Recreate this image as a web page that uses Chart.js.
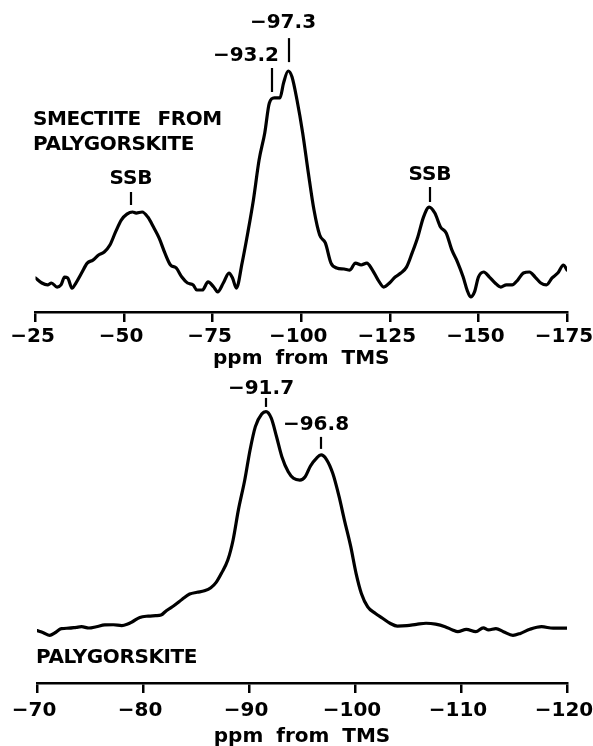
<!DOCTYPE html>
<html><head><meta charset="utf-8">
<script src="https://cdn.jsdelivr.net/npm/chart.js@4/dist/chart.umd.min.js"></script>
<style>
html,body{margin:0;padding:0;background:#fff;width:593px;height:746px;overflow:hidden;position:relative}
canvas{position:absolute;left:0}
#c1{top:0}
#c2{top:374px}
</style></head><body>
<canvas id="c1" width="620" height="372"></canvas>
<canvas id="c2" width="620" height="372"></canvas>
<script>
// ---------- data: smectite from palygorskite (top) ----------
const topPpm = [-25,-26.8,-28.4,-29.5,-31.1,-32.2,-33.2,-34.1,-35.3,-36.4,-38.0,-39.6,-41.2,-42.8,-44.4,-46.0,-47.6,-49.2,-50.8,-52.4,-53.4,-55.1,-56.7,-58.3,-59.9,-61.5,-63.1,-64.7,-66.3,-67.9,-69.5,-70.5,-72.1,-73.7,-75.3,-76.4,-78.0,-79.6,-80.6,-81.7,-83.3,-84.9,-86.5,-88.1,-89.7,-91.0,-92.4,-94.0,-95.0,-96.3,-97.4,-98.8,-100.4,-102.0,-103.6,-105.2,-106.8,-108.4,-110.0,-112.1,-113.7,-115.3,-116.9,-118.5,-120.1,-121.7,-123.3,-124.9,-126.5,-128.1,-129.7,-131.3,-132.9,-134.5,-136.1,-137.7,-139.3,-140.9,-142.5,-144.1,-145.7,-146.8,-147.8,-148.9,-150.0,-151.5,-153.1,-154.7,-156.3,-157.9,-159.5,-161.1,-162.7,-164.4,-166.0,-167.6,-169.2,-170.8,-172.4,-174.0,-175.0];
const topIntensity = [2.4,0,-0.9,0,-1.9,-0.9,2.8,2.4,-2.4,0,4.7,9.4,10.8,13.2,14.6,17.9,24.1,29.7,32.5,33.5,33.0,33.5,31.1,26.4,21.2,14.2,8.5,7.1,2.8,0,-0.9,-3.3,-3.3,0.5,-1.9,-4.2,0,4.7,2.4,-2.4,9.4,23.6,39.2,58.0,70.8,84.9,87.3,87.3,94.3,100,97.2,86.3,70.8,51.9,34.4,22.6,18.9,9.4,7.1,6.6,6.1,9.4,8.5,9.4,6.1,1.4,-1.9,0,2.8,4.7,7.5,14.2,21.7,31.1,35.8,33.0,26.4,23.6,15.6,9.9,2.8,-3.3,-6.6,-4.2,2.8,5.2,2.8,0,-1.9,-0.9,-0.9,1.4,4.7,5.2,2.8,0,-0.9,2.4,4.7,8.5,6.1];
const topTicks = [-25,-50,-75,-100,-125,-150,-175];
const topPeakLabels = ['\u221293.2','\u221297.3','SSB','SSB'];
const topPeakPpm = [-91.8,-96.5,-52.0,-136.3];
const topPeakLevel = [90.1,104.2,36.8,38.2];
const topSample = ['SMECTITE FROM','PALYGORSKITE'];

// ---------- data: palygorskite (bottom) ----------
const bottomPpm = [-70.0,-70.6,-71.2,-71.7,-72.3,-73.0,-73.7,-74.2,-74.9,-75.6,-76.4,-77.2,-78.0,-78.5,-79.0,-79.7,-80.5,-81.2,-81.7,-82.2,-83.0,-83.7,-84.4,-85.1,-85.8,-86.4,-86.9,-87.4,-88.0,-88.5,-89.0,-89.6,-90.1,-90.6,-91.2,-91.6,-92.1,-92.6,-93.1,-93.7,-94.2,-94.8,-95.3,-95.8,-96.4,-96.8,-97.3,-97.9,-98.5,-99.0,-99.6,-100.1,-100.6,-101.2,-101.9,-102.6,-103.3,-104.0,-104.9,-105.8,-106.7,-107.6,-108.5,-109.2,-109.7,-110.5,-111.4,-112.1,-112.6,-113.3,-114.0,-114.9,-115.6,-116.5,-117.6,-118.7,-120.0];
const bottomIntensity = [-1.2,-2.2,-3.4,-2.2,-0.3,-0.1,0.3,0.6,0,0.6,1.4,1.5,1.1,1.7,2.9,4.9,5.5,5.7,6.0,8.0,10.6,13.3,15.7,16.5,17.2,18.6,21.1,25.3,31.4,40.7,54.6,68.4,82.3,93.1,98.9,100,97.0,88.4,79.2,72.2,69.2,68.4,69.9,74.9,78.7,80.0,78.0,71.5,60.7,49.9,37.6,25.3,16.0,9.8,6.8,4.5,2.2,0.9,1.1,1.7,2.2,1.8,0.6,-0.9,-1.7,-0.6,-1.7,0.1,-0.9,-0.3,-1.7,-3.4,-2.5,-0.6,0.6,-0.1,-0.1];
const bottomTicks = [-70,-80,-90,-100,-110,-120];
const bottomPeakLabels = ['\u221291.7','\u221296.8'];
const bottomPeakPpm = [-91.6,-96.8];
const bottomPeakLevel = [102.2,82.8];
const bottomSample = ['PALYGORSKITE'];

const axisTitle = 'ppm from TMS';

// ---------- rendering ----------
const FAMILY = '"DejaVu Sans", sans-serif';
const SIZE = 20;

const spacingPlugin = {
  id: 'spacing',
  beforeDraw(chart) {
    chart.ctx.letterSpacing = '0px';
    chart.ctx.wordSpacing = '6px';
  }
};

const marksPlugin = {
  id: 'marks',
  afterDraw(chart, args, opts) {
    const ctx = chart.ctx, xs = chart.scales.x, ys = chart.scales.y;
    ctx.save();
    ctx.fillStyle = '#000';
    ctx.strokeStyle = '#000';
    ctx.lineWidth = 2.2;
    ctx.font = 'bold ' + SIZE + 'px ' + FAMILY;
    ctx.textBaseline = 'middle';
    ctx.letterSpacing = '0px';
    opts.items.forEach(m => {
      const px = Math.round(xs.getPixelForValue(m.ppm));
      const py = ys.getPixelForValue(m.level);
      ctx.beginPath();
      ctx.moveTo(px, py);
      ctx.lineTo(px, py - m.len);
      ctx.stroke();
      ctx.textAlign = m.align || 'center';
      ctx.fillText(m.text, px + (m.dx || 0), py - m.len - m.gap);
    });
    ctx.textAlign = 'left';
    ctx.letterSpacing = '-0.4px';
    ctx.wordSpacing = '10px';
    opts.notes.forEach(n => ctx.fillText(n.text, n.x, n.y));
    ctx.restore();
  }
};

function makeChart(id, c) {
  const pts = c.ppm.map((p, i) => ({x: p, y: c.intensity[i]}));
  const items = c.peakLabels.map((t, i) => Object.assign({text: t, ppm: c.peakPpm[i], level: c.peakLevel[i]}, c.markStyle[i]));
  return new Chart(document.getElementById(id), {
    type: 'line',
    data: {datasets: [{
      data: pts,
      borderColor: '#000',
      borderWidth: 3.2,
      pointRadius: 0,
      fill: false,
      tension: 0.4,
      cubicInterpolationMode: 'monotone',
      borderJoinStyle: 'round',
      borderCapStyle: 'round'
    }]},
    options: {
      responsive: false,
      animation: false,
      devicePixelRatio: 1,
      events: [],
      layout: {padding: c.padding},
      plugins: {
        legend: {display: false},
        tooltip: {enabled: false},
        marks: {items: items, notes: c.notes}
      },
      scales: {
        x: {
          type: 'linear',
          min: Math.min(...c.ticks),
          max: Math.max(...c.ticks),
          reverse: true,
          afterBuildTicks: s => { s.ticks = c.ticks.map(v => ({value: v})); },
          grid: {drawOnChartArea: false, drawTicks: true, tickLength: 10, color: '#000', lineWidth: 2.5},
          border: {display: true, color: '#000', width: 2.5},
          ticks: {
            color: '#000', autoSkip: false, maxRotation: 0, padding: c.tickPad, labelOffset: -3,
            font: {family: FAMILY, size: SIZE, weight: 'bold', lineHeight: 1},
            callback: v => (v < 0 ? '\u2212' : '') + Math.abs(v)
          },
          title: {
            display: true, text: axisTitle, color: '#000',
            font: {family: FAMILY, size: SIZE, weight: 'bold', lineHeight: 1},
            padding: c.titlePad
          }
        },
        y: {display: false, min: c.ymin, max: c.ymax}
      }
    },
    plugins: [spacingPlugin, marksPlugin]
  });
}

makeChart('c1', {
  ppm: topPpm, intensity: topIntensity, ticks: topTicks,
  peakLabels: topPeakLabels, peakPpm: topPeakPpm, peakLevel: topPeakLevel,
  markStyle: [
    {len: 24, gap: 12, align: 'right', dx: 7},
    {len: 24, gap: 15, dx: -6},
    {len: 13, gap: 13},
    {len: 15, gap: 12}
  ],
  notes: [{text: topSample[0], x: 33, y: 120}, {text: topSample[1], x: 33, y: 145}],
  padding: {left: 35.5, right: 53, top: 0, bottom: 0},
  tickPad: 5, titlePad: {top: -3.5, bottom: 3.5},
  ymin: -13.68, ymax: 133.5
});

makeChart('c2', {
  ppm: bottomPpm, intensity: bottomIntensity, ticks: bottomTicks,
  peakLabels: bottomPeakLabels, peakPpm: bottomPeakPpm, peakLevel: bottomPeakLevel,
  markStyle: [
    {len: 9, gap: 9, dx: -5},
    {len: 12, gap: 12, dx: -5}
  ],
  notes: [{text: bottomSample[0], x: 36, y: 284}],
  padding: {left: 37, right: 53, top: 0, bottom: 0},
  tickPad: 7.5, titlePad: {top: -1, bottom: -1},
  ymin: -25.43, ymax: 117.43
});
</script>
</body></html>
